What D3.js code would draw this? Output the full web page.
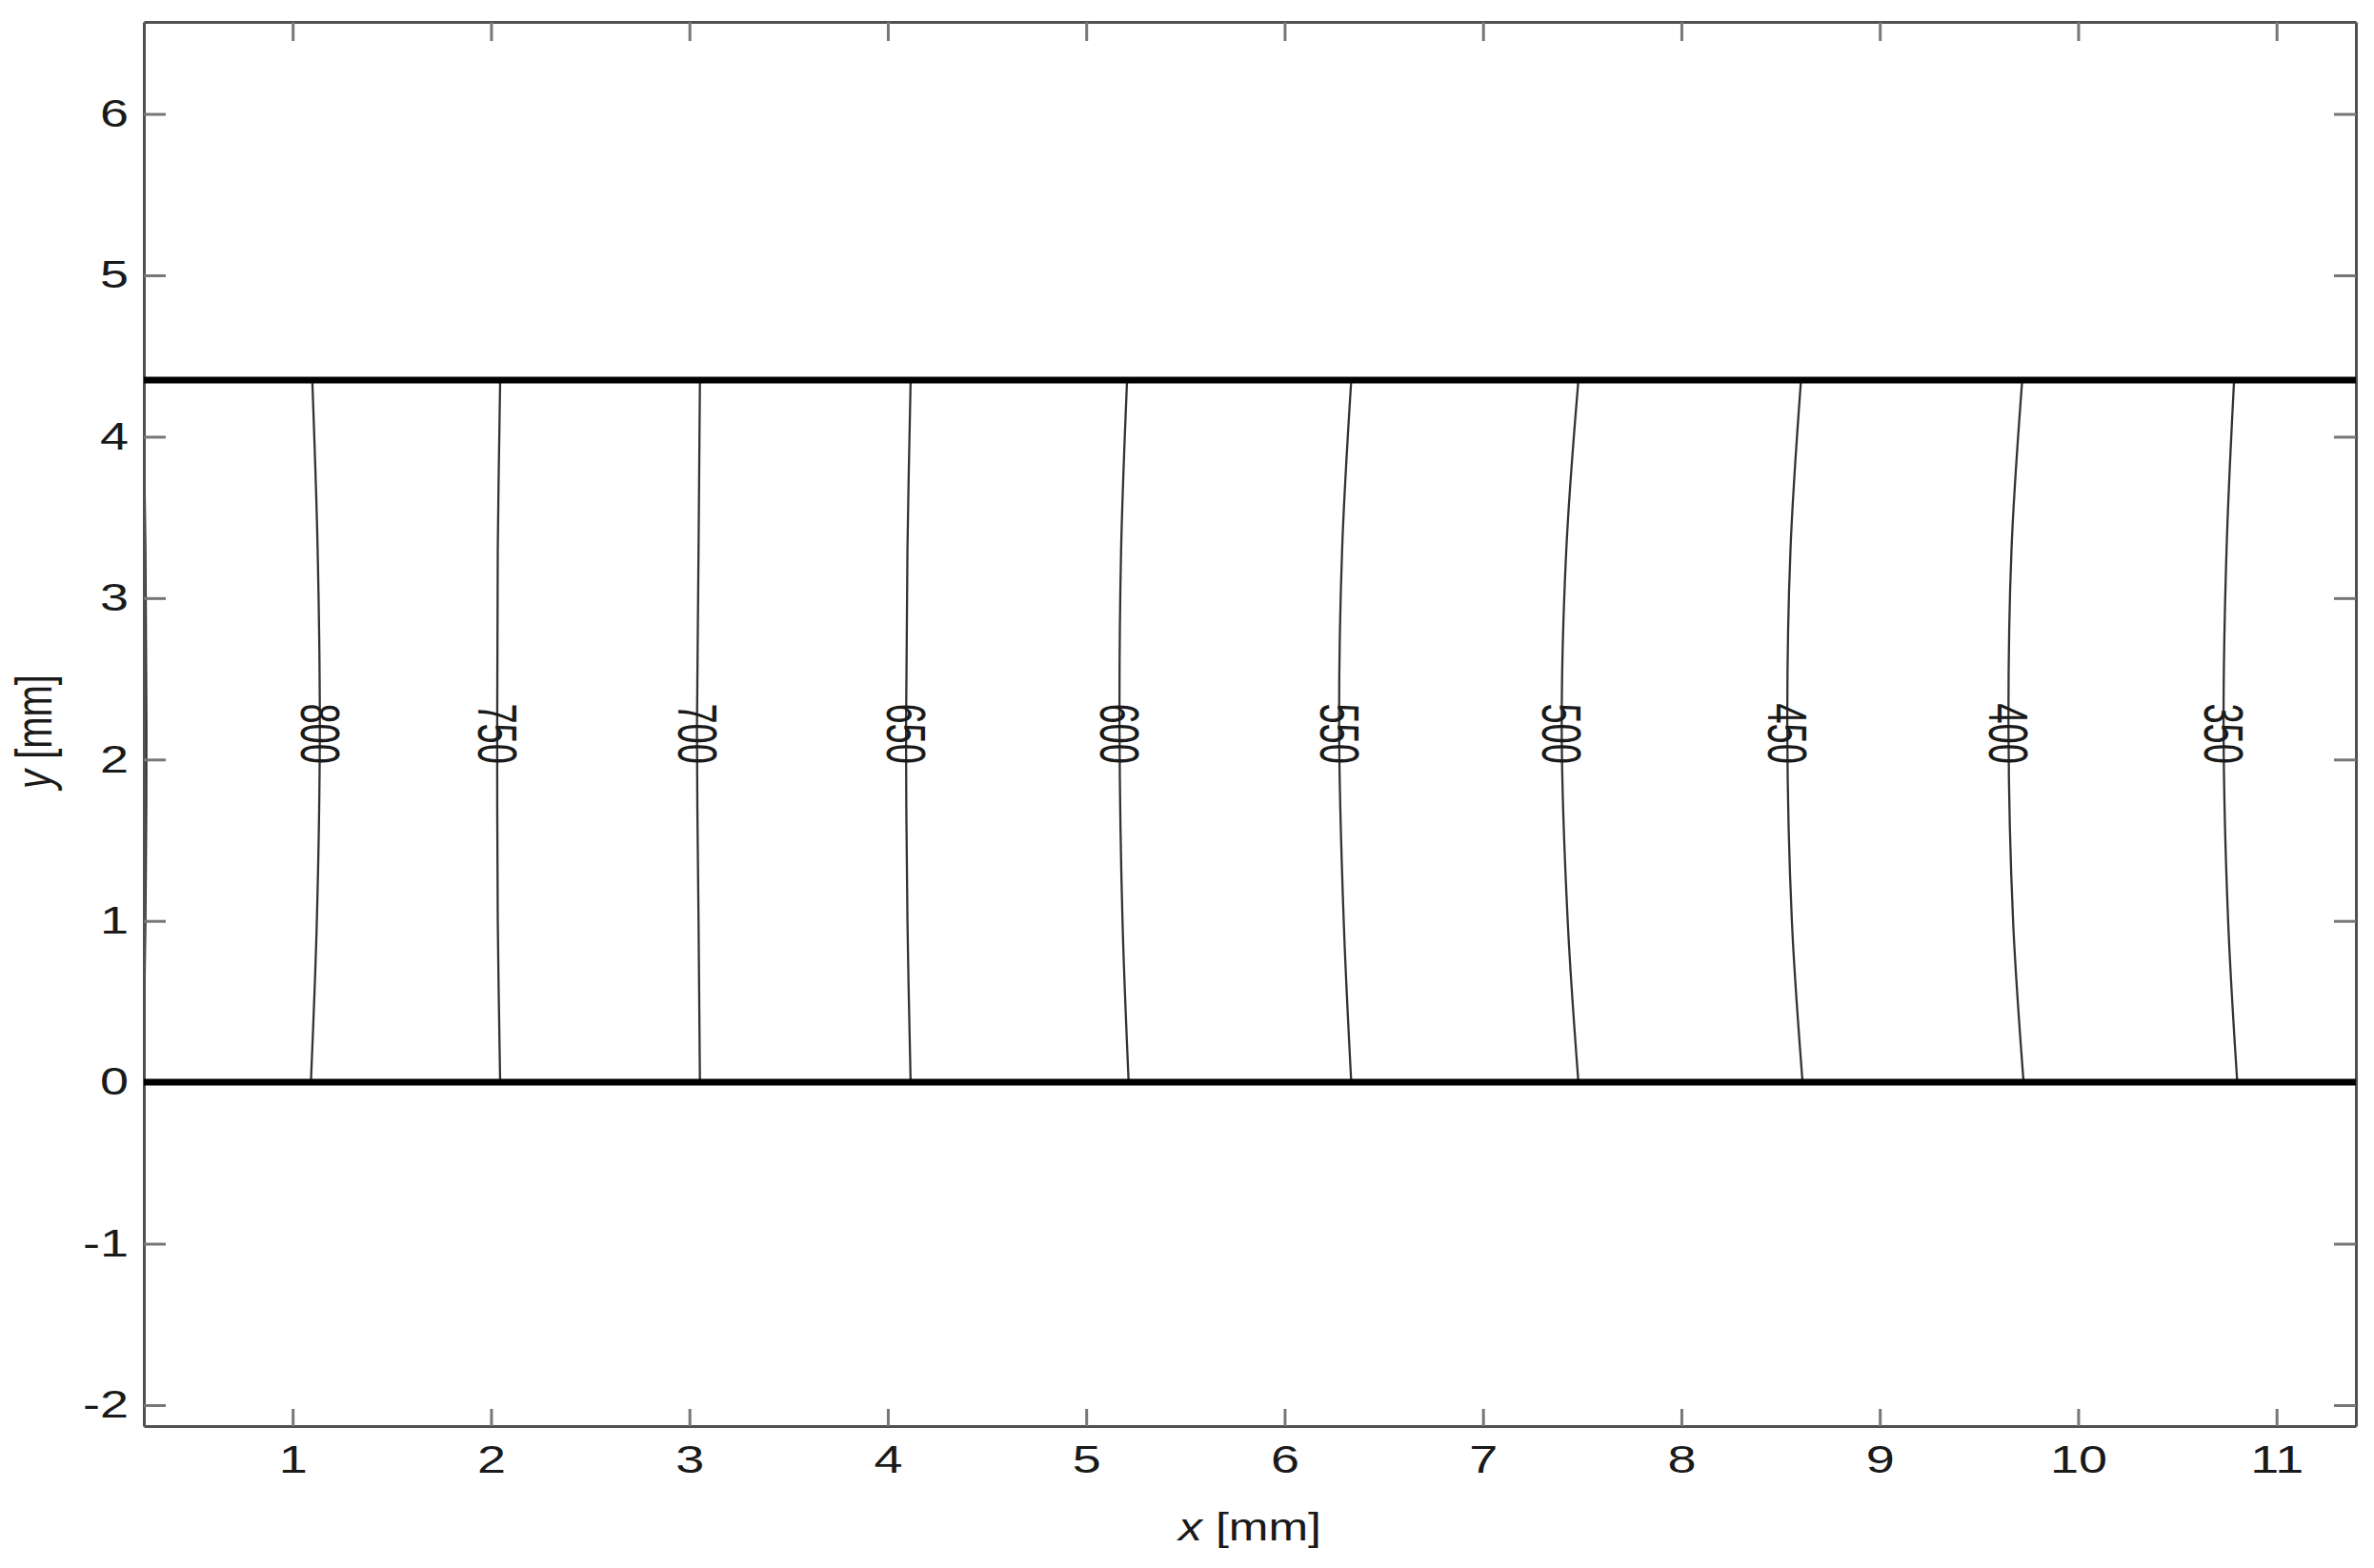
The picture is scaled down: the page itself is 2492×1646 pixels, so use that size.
<!DOCTYPE html>
<html>
<head>
<meta charset="utf-8">
<script src="https://cdn.jsdelivr.net/npm/d3@7"></script>
<style>
  html, body { margin: 0; padding: 0; background: #fff; }
  svg { display: block; }
</style>
</head>
<body>
<svg id="chart" width="2492" height="1646"></svg>
<script>
// ---- data ----
const xTicks = [1, 2, 3, 4, 5, 6, 7, 8, 9, 10, 11];
const yTicks = [-2, -1, 0, 1, 2, 3, 4, 5, 6];
const xDomain = [0.25, 11.4];
const yDomain = [-2.13, 6.57];
const boundaries = [0, 4.35];              // thick black walls (y, mm)
const contourLevels = [850, 800, 750, 700, 650, 600, 550, 500, 450, 400, 350];
const sampleY = [0, 1, 2.17, 3.3, 4.35];   // y positions where contour x was read
const contourX = [
  [0.245, 0.258, 0.263, 0.258, 0.245],
  [1.092, 1.122, 1.137, 1.126, 1.099],
  [2.046, 2.034, 2.031, 2.034, 2.046],
  [3.053, 3.046, 3.038, 3.046, 3.053],
  [4.115, 4.099, 4.092, 4.099, 4.115],
  [5.214, 5.183, 5.168, 5.176, 5.206],
  [6.336, 6.298, 6.275, 6.290, 6.336],
  [7.481, 7.427, 7.397, 7.420, 7.481],
  [8.611, 8.557, 8.534, 8.550, 8.603],
  [9.725, 9.672, 9.649, 9.664, 9.718],
  [10.802, 10.756, 10.733, 10.748, 10.786]
];
const labelY = 2.16;
const labeledLevels = [800, 750, 700, 650, 600, 550, 500, 450, 400, 350];

// ---- layout ----
const L = 151, R = 2473, T = 23, B = 1497;
const svg = d3.select("#chart");
const x = d3.scaleLinear().domain(xDomain).range([L, R]);
const y = d3.scaleLinear().domain(yDomain).range([B, T]);
const FONT = "'Liberation Sans', Arial, Helvetica, sans-serif";
const SX = 1.35; // horizontal stretch of the original figure

svg.append("defs").append("clipPath").attr("id", "plotclip")
  .append("rect").attr("x", L).attr("y", T).attr("width", R - L).attr("height", B - T);

const plot = svg.append("g").attr("clip-path", "url(#plotclip)");

// contour lines
const line = d3.line().x(d => x(d[0])).y(d => y(d[1])).curve(d3.curveCatmullRom.alpha(0.5));
contourLevels.forEach((lev, i) => {
  const pts = contourX[i].map((cx, j) => [cx, sampleY[j]]);
  plot.append("path").attr("d", line(pts))
    .attr("fill", "none").attr("stroke", "#333").attr("stroke-width", 2.3);
});

// contour labels
labeledLevels.forEach(lev => {
  const i = contourLevels.indexOf(lev);
  const lx = x(contourX[i][2]);
  const ly = y(labelY);
  svg.append("text")
    .attr("transform", `translate(${lx},${ly}) rotate(90) scale(1,1.5)`)
    .attr("text-anchor", "middle").attr("dominant-baseline", "central")
    .attr("font-family", FONT).attr("font-size", 38).attr("fill", "#1a1a1a")
    .text(lev);
});

// axes
const axisColor = "#505050";
const fmt = d => String(d);
function styleAxis(g) {
  g.select(".domain").attr("stroke", axisColor).attr("stroke-width", 3);
  g.selectAll(".tick line").attr("stroke", "#777").attr("stroke-width", 3);
  g.selectAll("text").attr("font-family", FONT).attr("font-size", 40).attr("fill", "#1a1a1a");
}

const gx = svg.append("g").attr("transform", `translate(0,${B})`)
  .call(d3.axisBottom(x).tickValues(xTicks).tickFormat(fmt).tickSize(-18).tickSizeOuter(0).tickPadding(21));
styleAxis(gx);
gx.selectAll("text").attr("transform", `scale(${SX},1)`).attr("x", 0);

const gy = svg.append("g").attr("transform", `translate(${L},0)`)
  .call(d3.axisLeft(y).tickValues(yTicks).tickFormat(fmt).tickSize(-23).tickSizeOuter(0).tickPadding(16));
styleAxis(gy);
gy.selectAll("text").attr("transform", `scale(${SX},1)`).attr("x", -16 / SX);

const gt = svg.append("g").attr("transform", `translate(0,${T})`)
  .call(d3.axisTop(x).tickValues(xTicks).tickSize(-20).tickSizeOuter(0).tickFormat(""));
styleAxis(gt);

const gr = svg.append("g").attr("transform", `translate(${R},0)`)
  .call(d3.axisRight(y).tickValues(yTicks).tickSize(-23).tickSizeOuter(0).tickFormat(""));
styleAxis(gr);

// thick boundary walls (drawn over the axis ticks, as in the original)
boundaries.forEach(b => {
  svg.append("line")
    .attr("x1", x(xDomain[0])).attr("x2", x(xDomain[1]))
    .attr("y1", y(b)).attr("y2", y(b))
    .attr("stroke", "#000").attr("stroke-width", 7);
});

// axis titles
const xt = svg.append("text")
  .attr("transform", `translate(${(L + R) / 2},1617) scale(1.25,1)`)
  .attr("text-anchor", "middle").attr("font-family", FONT).attr("font-size", 40).attr("fill", "#1a1a1a");
xt.append("tspan").attr("font-style", "italic").text("x");
xt.append("tspan").text(" [mm]");

const yt = svg.append("text")
  .attr("transform", `translate(54,${(T + B) / 2 + 8}) rotate(-90) scale(1,1.35)`)
  .attr("text-anchor", "middle").attr("font-family", FONT).attr("font-size", 40).attr("fill", "#1a1a1a");
yt.append("tspan").attr("font-style", "italic").text("y");
yt.append("tspan").text(" [mm]");
</script>
</body>
</html>
